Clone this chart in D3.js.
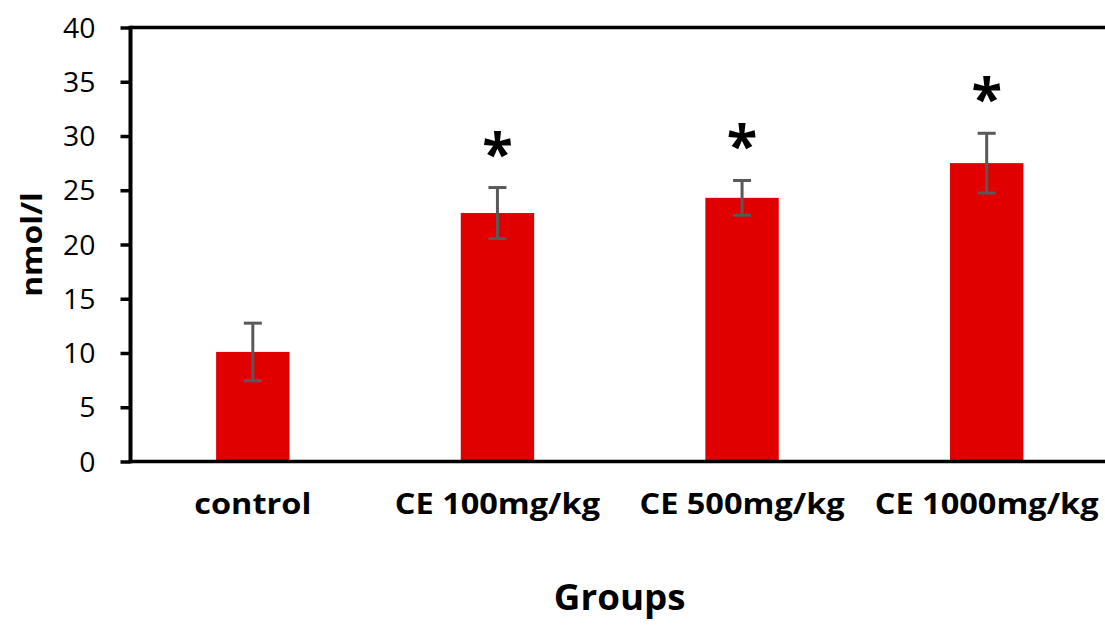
<!DOCTYPE html>
<html>
<head>
<meta charset="utf-8">
<script src="https://cdn.jsdelivr.net/npm/d3@7"></script>
<style>
  html, body { margin: 0; padding: 0; background: #fff; }
  svg { display: block; }
  text { font-family: "Open Sans", sans-serif; }
</style>
</head>
<body>
<svg id="chart" width="1105" height="628"></svg>
<script>
const categories = ["control", "CE 100mg/kg", "CE 500mg/kg", "CE 1000mg/kg"];
const means = [10.1, 22.9, 24.3, 27.5];
const errors = [2.65, 2.35, 1.6, 2.75];
const significant = [false, true, true, true];
const yTicks = [0, 5, 10, 15, 20, 25, 30, 35, 40];
const yLabel = "nmol/l";
const xLabel = "Groups";

(function() {
const svg = d3.select("#chart");
const W = 1105, H = 628;
const pLeft = 130.5, pRight = 1109, pTop = 27.5, pBottom = 461.5;

const x = d3.scaleBand().domain(categories).range([pLeft, pRight])
  .paddingInner(0.7).paddingOuter(0.35);
const y = d3.scaleLinear().domain([0, 40]).range([pBottom, pTop]);

function stretch(sel, f) {
  sel.each(function() {
    const n = this;
    const len = n.getComputedTextLength();
    n.setAttribute("textLength", len * f);
    n.setAttribute("lengthAdjust", "spacingAndGlyphs");
  });
}

// bars
svg.append("g").selectAll("rect").data(categories).join("rect")
  .attr("x", d => x(d))
  .attr("width", x.bandwidth())
  .attr("y", (d, i) => y(means[i]))
  .attr("height", (d, i) => y(0) - y(means[i]))
  .attr("fill", "#e00000");

// error bars
const eb = svg.append("g").attr("stroke", "#595959").attr("stroke-width", 3);
categories.forEach((c, i) => {
  const cx = x(c) + x.bandwidth() / 2;
  const hi = y(means[i] + errors[i]), lo = y(means[i] - errors[i]);
  eb.append("line").attr("x1", cx).attr("x2", cx).attr("y1", hi).attr("y2", lo);
  eb.append("line").attr("x1", cx - 9).attr("x2", cx + 9).attr("y1", hi).attr("y2", hi);
  eb.append("line").attr("x1", cx - 9).attr("x2", cx + 9).attr("y1", lo).attr("y2", lo);
});

// asterisks
svg.append("g").selectAll("text").data(categories.filter((c, i) => significant[i])).join("text")
  .attr("x", d => x(d) + x.bandwidth() / 2)
  .attr("y", d => { const i = categories.indexOf(d); return y(means[i] + errors[i]) - 40 + 25; })
  .attr("text-anchor", "middle")
  .attr("font-size", 56)
  .attr("font-weight", "bold")
  .attr("fill", "#000")
  .text("*");

// y axis
const yAxis = svg.append("g").attr("transform", `translate(${pLeft},0)`)
  .call(d3.axisLeft(y).tickValues(yTicks).tickSize(10).tickPadding(25));
yAxis.select(".domain").remove();
yAxis.selectAll(".tick line").attr("stroke", "#000").attr("stroke-width", 3.5);
yAxis.selectAll(".tick text").attr("font-size", 27).attr("fill", "#000")
  .attr("font-family", "'Open Sans', sans-serif").attr("dy", "0.36em");
stretch(yAxis.selectAll(".tick text"), 1.05);

// axis lines / frame
svg.append("line").attr("x1", pLeft).attr("x2", pLeft).attr("y1", pTop - 1.75).attr("y2", pBottom + 1.75)
  .attr("stroke", "#000").attr("stroke-width", 4);
svg.append("line").attr("x1", pLeft).attr("x2", W).attr("y1", pBottom).attr("y2", pBottom)
  .attr("stroke", "#000").attr("stroke-width", 3.5);
svg.append("line").attr("x1", pLeft).attr("x2", W).attr("y1", pTop).attr("y2", pTop)
  .attr("stroke", "#000").attr("stroke-width", 3.5);

// category labels
const cl = svg.append("g").selectAll("text").data(categories).join("text")
  .attr("x", d => x(d) + x.bandwidth() / 2)
  .attr("y", 514)
  .attr("text-anchor", "middle")
  .attr("font-size", 28)
  .attr("font-weight", "bold")
  .attr("fill", "#000")
  .text(d => d);
stretch(cl, 1.16);

// axis titles
const xt = svg.append("text").attr("x", (pLeft + pRight) / 2).attr("y", 610)
  .attr("text-anchor", "middle").attr("font-size", 35).attr("font-weight", "bold")
  .attr("fill", "#000").text(xLabel);
stretch(xt, 1.05);

const yt = svg.append("text")
  .attr("transform", `translate(42,${(pTop + pBottom) / 2}) rotate(-90)`)
  .attr("text-anchor", "middle").attr("font-size", 29).attr("font-weight", "bold")
  .attr("fill", "#000").text(yLabel);
stretch(yt, 1.1);
})();
</script>
</body>
</html>
